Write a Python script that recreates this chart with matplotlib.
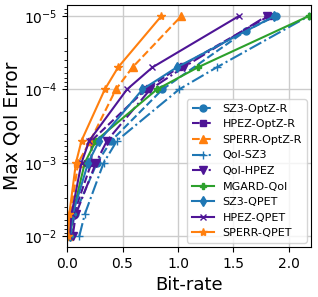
import matplotlib.pyplot as plt

# error bounds (y) and bit-rates (x)
eb = [1e-2, 5e-3, 1e-3, 5e-4, 1e-4, 5e-5, 1e-5]
eb_sz3r = [1e-2, 5e-3, 1e-3, 5e-4, 1e-4, 1.6e-5, 1e-5]

sz3_optzr = [0.03, 0.07, 0.27, 0.40, 0.86, 1.61, 1.88]
hpez_optzr = [0.03, 0.06, 0.22, 0.22, 0.71, 1.01, 1.82]
sperr_optzr = [0.02, 0.03, 0.10, 0.21, 0.44, 0.59, 1.03]
qoi_sz3 = [0.11, 0.16, 0.33, 0.45, 1.01, 1.35, 2.18]
qoi_hpez = [0.05, 0.08, 0.26, 0.36, 0.75, 1.05, 1.80]
mgard_qoi = [0.03, 0.05, 0.16, 0.26, 0.81, 1.18, 2.18]
sz3_qpet = [0.03, 0.05, 0.19, 0.29, 0.68, 0.99, 1.87]
hpez_qpet = [0.02, 0.04, 0.13, 0.20, 0.54, 0.77, 1.55]
sperr_qpet = [0.01, 0.02, 0.08, 0.13, 0.34, 0.46, 0.85]

blue = '#1f77b4'
purple = '#4e1596'
orange = '#ff7f0e'
green = '#2ca02c'

fig = plt.figure(figsize=(3.18, 2.97), dpi=100)
ax = fig.add_axes([0.211, 0.168, 0.767, 0.815])

ax.plot(sz3_optzr, eb_sz3r, '--', marker='o', color=blue, ms=5, label='SZ3-OptZ-R')
ax.plot(hpez_optzr, eb, '--', marker='s', color=purple, ms=5, label='HPEZ-OptZ-R')
ax.plot(sperr_optzr, eb, '--', marker='^', color=orange, ms=6, label='SPERR-OptZ-R')
ax.plot(qoi_sz3, eb, '-.', marker='+', color=blue, ms=6, label='QoI-SZ3')
ax.plot(qoi_hpez, eb, '-.', marker='v', color=purple, ms=6, label='QoI-HPEZ')
ax.plot(mgard_qoi, eb, '-', marker='P', color=green, ms=5, label='MGARD-QoI')
ax.plot(sz3_qpet, eb, '-', marker='d', color=blue, ms=5, label='SZ3-QPET')
ax.plot(hpez_qpet, eb, '-', marker='x', color=purple, ms=5, label='HPEZ-QPET')
ax.plot(sperr_qpet, eb, '-', marker='*', color=orange, ms=6, label='SPERR-QPET')

ax.set_yscale('log')
ax.invert_yaxis()
ax.set_xlim(0, 2.2)
ax.set_xticks([0.0, 0.5, 1.0, 1.5, 2.0])
ax.grid(True, color='#cccccc', linewidth=1)
ax.tick_params(labelsize=10)
ax.set_xlabel('Bit-rate', fontsize=13)
ax.set_ylabel('Max QoI Error', fontsize=13.5, labelpad=2)
ax.legend(loc='lower right', fontsize=8, labelspacing=0.5, handlelength=2.0,
          borderaxespad=0.4)

fig.savefig('out.png', dpi=100)
